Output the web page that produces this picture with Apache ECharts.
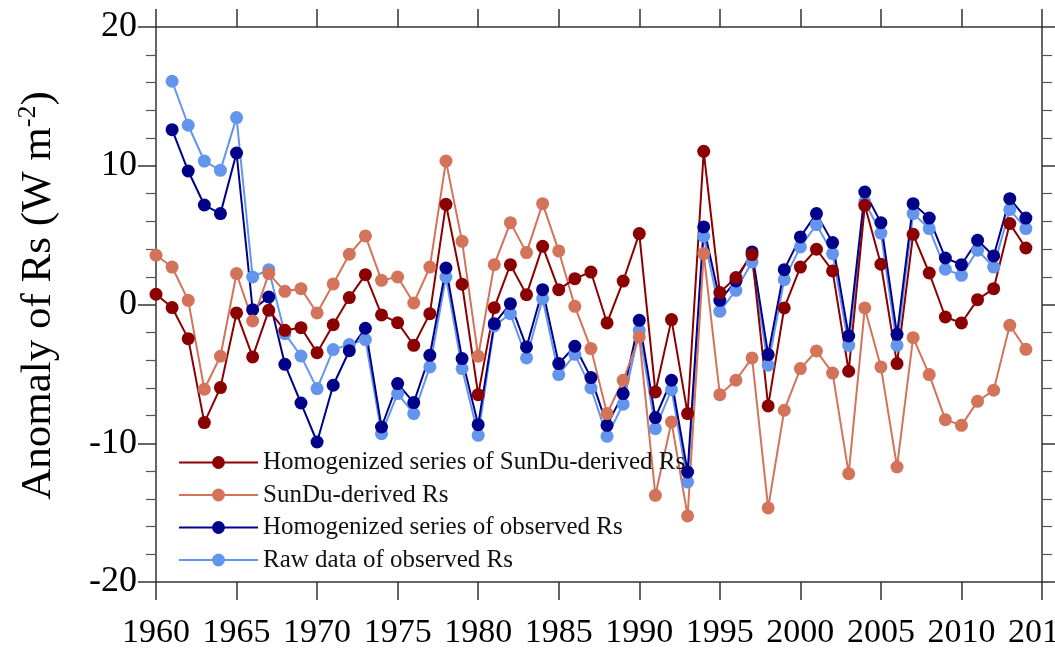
<!DOCTYPE html>
<html>
<head>
<meta charset="utf-8">
<script src="https://cdn.jsdelivr.net/npm/echarts@6/dist/echarts.min.js"></script>
<style>
html,body{margin:0;padding:0;background:#fff;overflow:hidden;}
#chart{width:1055px;height:653px;}
</style>
</head>
<body>
<div id="chart"></div>
<script>
var years = [1960,1961,1962,1963,1964,1965,1966,1967,1968,1969,
  1970,1971,1972,1973,1974,1975,1976,1977,1978,1979,
  1980,1981,1982,1983,1984,1985,1986,1987,1988,1989,
  1990,1991,1992,1993,1994,1995,1996,1997,1998,1999,
  2000,2001,2002,2003,2004,2005,2006,2007,2008,2009,
  2010,2011,2012,2013,2014];

var homSunDu = [0.74,-0.22,-2.46,-8.51,-5.99,-0.61,-3.78,-0.42,-1.86,-1.67,
  -3.47,-1.46,0.50,2.15,-0.75,-1.31,-2.94,-0.66,7.22,1.46,
  -6.50,-0.23,2.87,0.71,4.19,1.07,1.86,2.34,-1.33,1.69,
  5.11,-6.30,-1.09,-7.86,11.04,0.86,1.94,3.60,-7.31,-0.25,
  2.70,3.98,2.42,-4.81,7.15,2.90,-4.26,5.06,2.27,-0.90,
  -1.33,0.35,1.14,5.83,4.07];

var sunDu = [3.55,2.70,0.30,-6.11,-3.73,2.23,-1.19,2.23,0.95,1.14,
  -0.61,1.48,3.62,4.94,1.74,1.98,0.11,2.70,10.34,4.55,
  -3.73,2.87,5.90,3.74,7.27,3.86,-0.13,-3.18,-7.86,-5.46,
  -2.34,-13.75,-8.47,-15.24,3.67,-6.50,-5.46,-3.85,-14.66,-7.62,
  -4.62,-3.35,-4.94,-12.19,-0.25,-4.50,-11.71,-2.39,-5.05,-8.30,
  -8.71,-6.98,-6.18,-1.50,-3.23];

var homObs = [null,12.60,9.62,7.17,6.55,10.92,-0.37,0.54,-4.31,-7.10,
  -9.91,-5.82,-3.33,-1.71,-8.83,-5.70,-7.07,-3.66,2.63,-3.90,
  -8.66,-1.38,0.06,-3.06,1.07,-4.26,-3.01,-5.27,-8.71,-6.42,
  -1.14,-8.15,-5.46,-12.07,5.59,0.30,1.70,3.79,-3.61,2.51,
  4.87,6.55,4.46,-2.27,8.11,5.90,-2.15,7.27,6.23,3.35,
  2.87,4.63,3.50,7.63,6.23];

var rawObs = [null,16.09,12.92,10.34,9.67,13.47,1.98,2.51,-2.10,-3.71,
  -6.06,-3.25,-2.89,-2.53,-9.31,-6.42,-7.86,-4.50,1.98,-4.62,
  -9.43,-1.55,-0.66,-3.85,0.42,-5.05,-3.59,-6.02,-9.50,-7.19,
  -1.86,-8.95,-6.14,-12.79,4.92,-0.49,1.02,3.07,-4.38,1.79,
  4.15,5.76,3.67,-2.94,7.39,5.15,-2.94,6.55,5.47,2.54,
  2.10,3.91,2.70,6.84,5.47];

var seriesNames = [
  'Homogenized series of SunDu-derived Rs',
  'SunDu-derived Rs',
  'Homogenized series of observed Rs',
  'Raw data of observed Rs'
];
var seriesColors = ['#8b0000', '#d2735a', '#00008b', '#6495ed'];

var FONT = "'Liberation Serif','DejaVu Serif',serif";

function pairs(vals) {
  var out = [];
  for (var i = 0; i < years.length; i++) {
    if (vals[i] !== null) out.push([years[i], vals[i]]);
  }
  return out;
}
function mkSeries(idx, vals) {
  return {
    name: seriesNames[idx],
    type: 'line',
    data: pairs(vals),
    symbol: 'circle',
    symbolSize: 13,
    itemStyle: { color: seriesColors[idx] },
    lineStyle: { color: seriesColors[idx], width: 2 },
    emphasis: { disabled: true },
    z: 2
  };
}

var axisLineStyle = { color: '#333', width: 1.5 };

var chart = echarts.init(document.getElementById('chart'), null, { renderer: 'canvas' });
chart.setOption({
  animation: false,
  backgroundColor: '#fff',
  grid: { left: 156, right: 13, top: 27, bottom: 71, containLabel: false, outerBoundsMode: 'none' },
  legend: {
    orient: 'vertical',
    left: 178,
    top: 450,
    padding: 0,
    itemWidth: 79,
    itemHeight: 16,
    itemGap: 7.5,
    data: seriesNames,
    textStyle: { fontFamily: FONT, fontSize: 25, lineHeight: 25, color: '#111' }
  },
  xAxis: [{
    type: 'value', min: 1960, max: 2015, interval: 5, position: 'bottom',
    axisLine: { onZero: false, lineStyle: axisLineStyle },
    axisTick: { length: 18, lineStyle: axisLineStyle },
    axisLabel: { fontFamily: FONT, fontSize: 34, color: '#000', margin: 34, showMaxLabel: true,
      formatter: function (v) { return String(v); } },
    splitLine: { show: false }
  }, {
    type: 'value', min: 1960, max: 2015, interval: 5, position: 'top',
    axisLine: { onZero: false, lineStyle: axisLineStyle },
    axisTick: { length: 18, lineStyle: axisLineStyle },
    axisLabel: { show: false },
    splitLine: { show: false }
  }],
  yAxis: [{
    type: 'value', min: -20, max: 20, interval: 10, position: 'left',
    axisLine: { show: true, onZero: false, lineStyle: axisLineStyle },
    axisTick: { show: true, length: 18, lineStyle: axisLineStyle },
    minorTick: { show: true, splitNumber: 5, length: 10, lineStyle: { color: '#555', width: 1.2 } },
    axisLabel: { fontFamily: FONT, fontSize: 36, color: '#000', margin: 19 },
    splitLine: { show: false },
    name: '{a|Anomaly of Rs (W m}{s|-2}{a|)}',
    nameLocation: 'middle',
    nameRotate: 90,
    nameGap: 93,
    nameTextStyle: {
      fontFamily: FONT, color: '#000',
      padding: [0, 0, 0, 18],
      rich: {
        a: { fontFamily: FONT, fontSize: 43, color: '#000', lineHeight: 48 },
        s: { fontFamily: FONT, fontSize: 26, color: '#000', lineHeight: 48, verticalAlign: 'top' }
      }
    }
  }, {
    type: 'value', min: -20, max: 20, interval: 10, position: 'right',
    axisLine: { show: true, onZero: false, lineStyle: axisLineStyle },
    axisTick: { show: true, length: 18, lineStyle: axisLineStyle },
    minorTick: { show: true, splitNumber: 5, length: 10, lineStyle: { color: '#555', width: 1.2 } },
    axisLabel: { show: false },
    splitLine: { show: false }
  }],
  series: [
    mkSeries(3, rawObs),
    mkSeries(2, homObs),
    mkSeries(1, sunDu),
    mkSeries(0, homSunDu)
  ]
});
</script>
</body>
</html>
